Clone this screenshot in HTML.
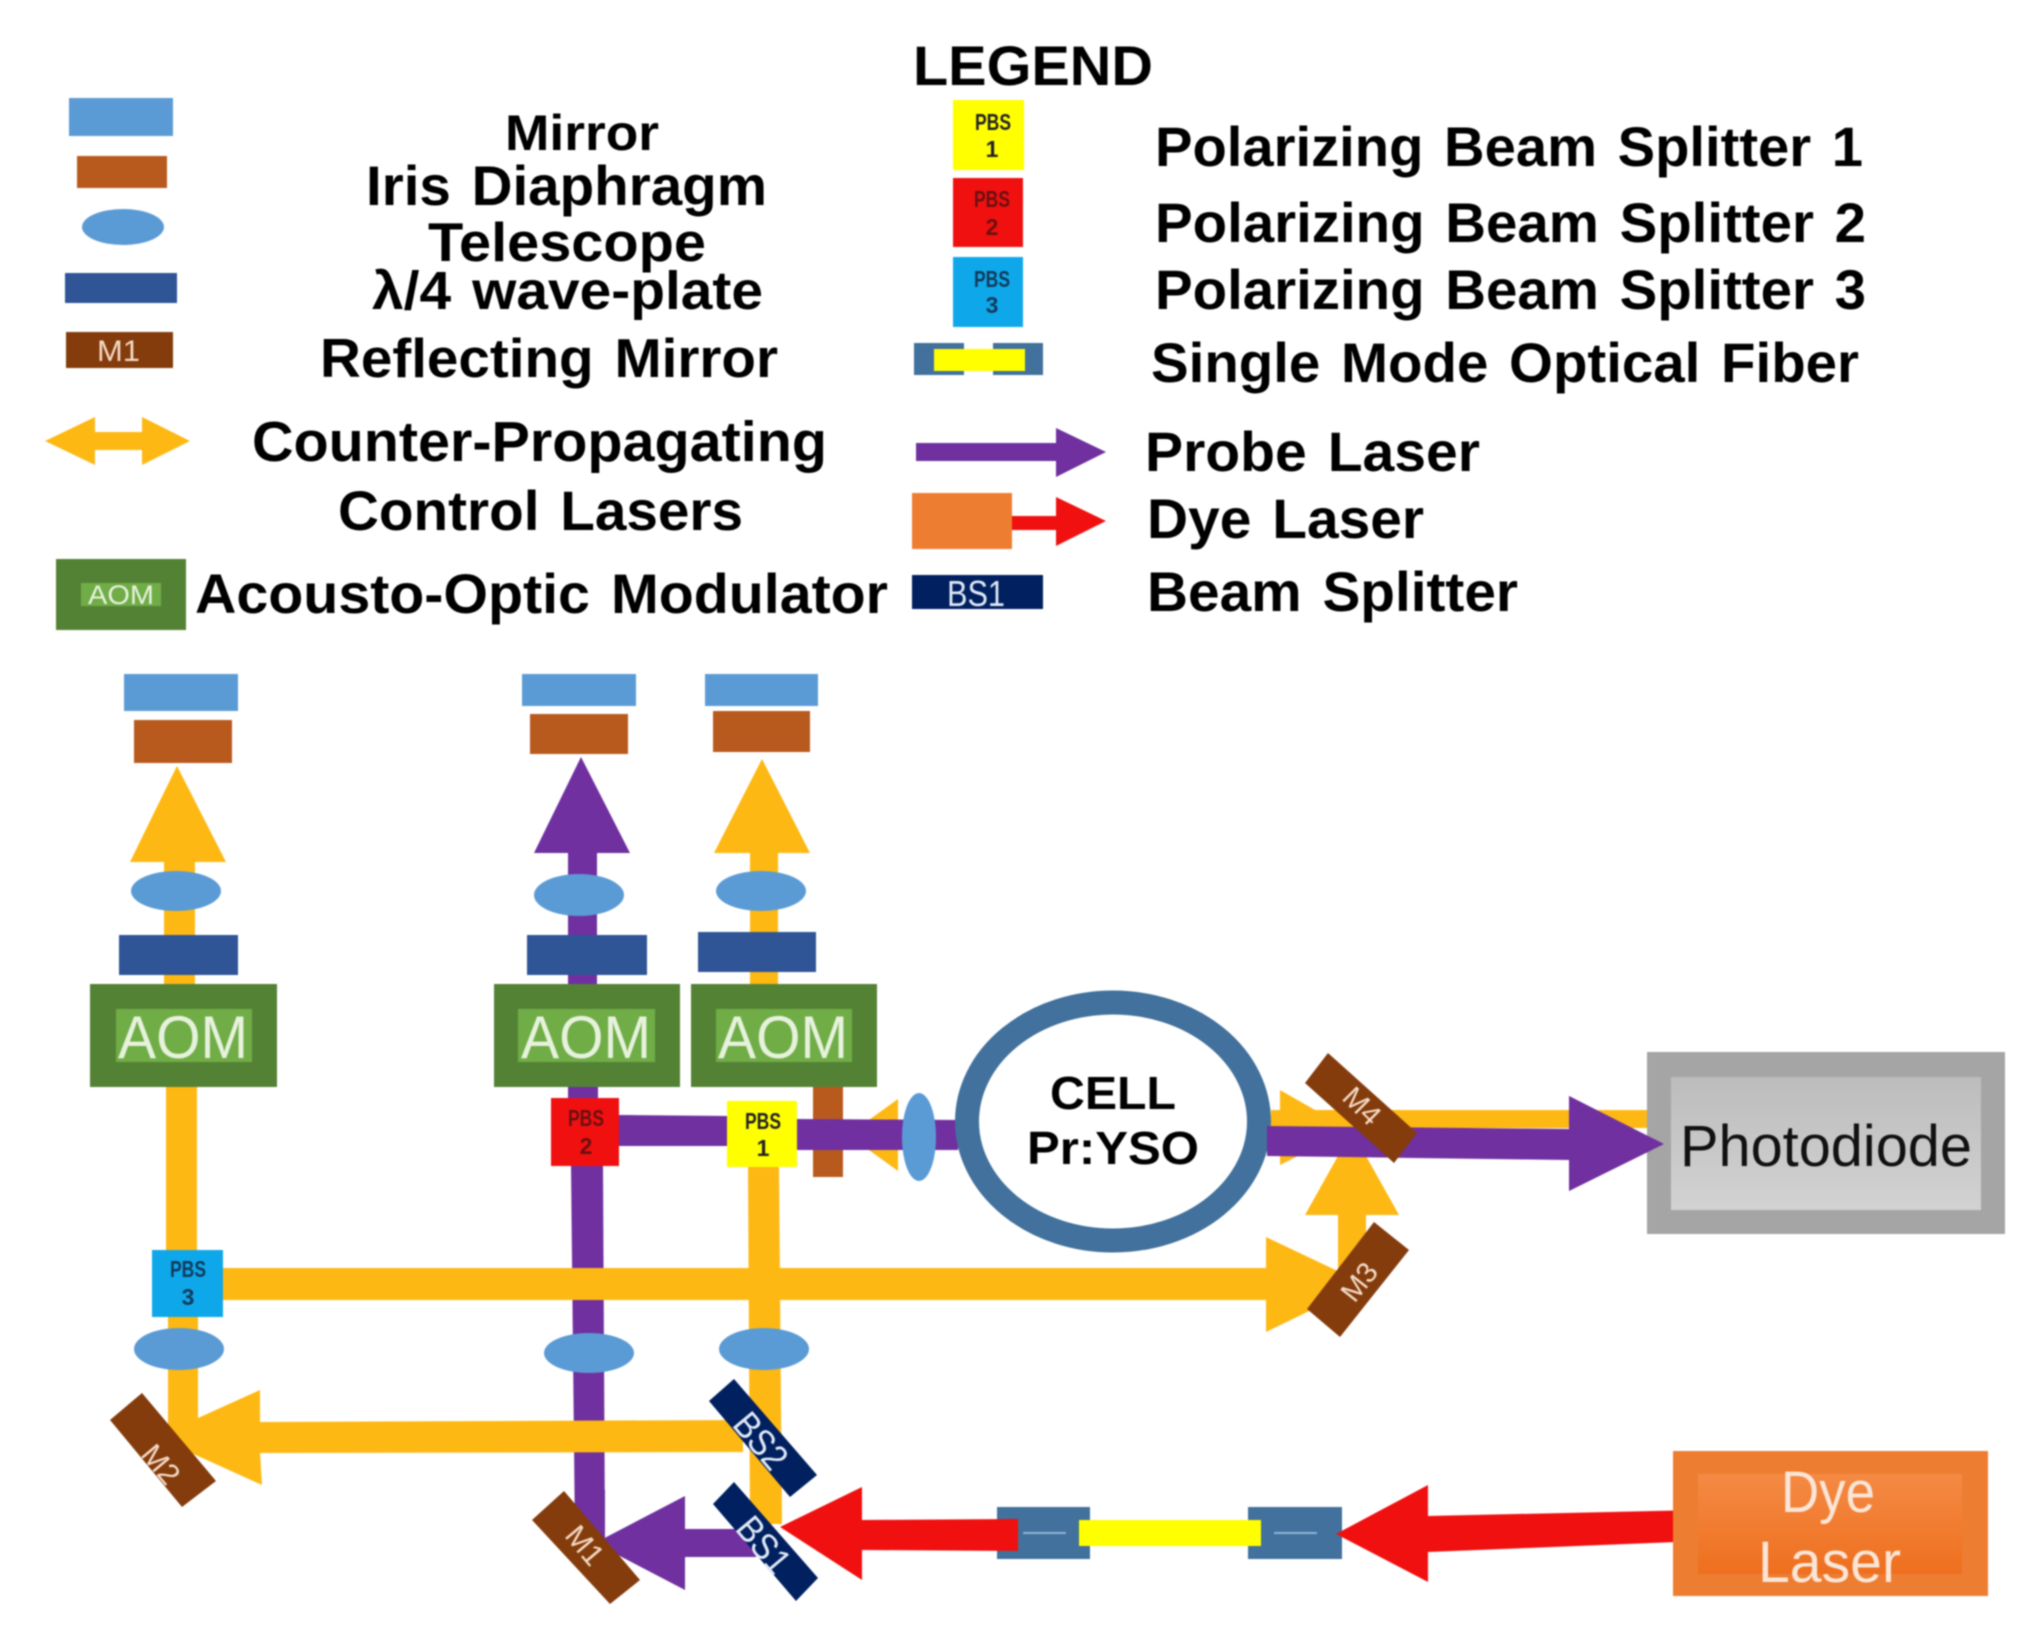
<!DOCTYPE html>
<html><head><meta charset="utf-8"><style>
html,body{margin:0;padding:0;background:#fff}
svg{display:block;filter:blur(.8px)}
text{font-family:"Liberation Sans",sans-serif}
.b{font-weight:700;fill:#000;word-spacing:5px}
.m{fill:#f3d9c4;font-size:30px;text-anchor:middle}
.p{font-weight:700;font-size:23px;text-anchor:middle}
.a{fill:#e6f2dc;font-size:60px}
</style></head><body>
<svg width="2035" height="1628" viewBox="0 0 2035 1628" xmlns="http://www.w3.org/2000/svg">
<defs>
<linearGradient id="pd" x1="0" y1="0" x2="0" y2="1"><stop offset="0" stop-color="#bcbcbc"/><stop offset="1" stop-color="#d2d2d2"/></linearGradient>
<linearGradient id="dy" x1="0" y1="0" x2="0" y2="1"><stop offset="0" stop-color="#f48a44"/><stop offset="1" stop-color="#ee6f1e"/></linearGradient>
</defs>
<rect width="2035" height="1628" fill="#fff"/>

<!-- Legend left -->
<rect x="69" y="98" width="104" height="38" fill="#5b9bd5"/>
<rect x="77" y="156" width="90" height="32" fill="#b85a1e"/>
<ellipse cx="123" cy="227" rx="41" ry="18" fill="#5b9bd5"/>
<rect x="65" y="273" width="112" height="30" fill="#2f5597"/>
<rect x="66" y="332" width="107" height="36" fill="#843c0c"/>
<text x="97" y="361" class="m" style="text-anchor:start" textLength="43" lengthAdjust="spacingAndGlyphs">M1</text>
<polygon points="45,441 95,417 95,432 142,432 142,417 190,441 142,465 142,450 95,450 95,465" fill="#fdb813"/>
<rect x="56" y="559" width="130" height="71" fill="#548235"/>
<rect x="81" y="583" width="80" height="23" fill="#70ad47"/>
<text x="88" y="604" fill="#e6f2dc" font-size="27" textLength="66" lengthAdjust="spacingAndGlyphs">AOM</text>

<text class="b" x="505" y="150" font-size="50" textLength="154" lengthAdjust="spacingAndGlyphs">Mirror</text>
<text class="b" x="366" y="205" font-size="56" textLength="401" lengthAdjust="spacingAndGlyphs">Iris Diaphragm</text>
<text class="b" x="428" y="261" font-size="55" textLength="278" lengthAdjust="spacingAndGlyphs">Telescope</text>
<text class="b" x="372" y="309" font-size="54" textLength="391" lengthAdjust="spacingAndGlyphs">λ/4 wave-plate</text>
<text class="b" x="320" y="377" font-size="55" textLength="458" lengthAdjust="spacingAndGlyphs">Reflecting Mirror</text>
<text class="b" x="252" y="461" font-size="57" textLength="575" lengthAdjust="spacingAndGlyphs">Counter-Propagating</text>
<text class="b" x="338" y="530" font-size="56" textLength="405" lengthAdjust="spacingAndGlyphs">Control Lasers</text>
<text class="b" x="195" y="613" font-size="56" textLength="693" lengthAdjust="spacingAndGlyphs">Acousto-Optic Modulator</text>

<!-- Legend right -->
<text class="b" x="913" y="85" font-size="56" textLength="240" lengthAdjust="spacingAndGlyphs">LEGEND</text>
<rect x="953" y="100" width="71" height="70" fill="#ffff00"/>
<text class="p" x="993" y="130" fill="#222" textLength="36" lengthAdjust="spacingAndGlyphs">PBS</text><text class="p" x="992" y="157" fill="#222">1</text>
<rect x="953" y="178" width="70" height="69" fill="#f01010"/>
<text class="p" x="992" y="207" fill="#6b1010" textLength="36" lengthAdjust="spacingAndGlyphs">PBS</text><text class="p" x="992" y="235" fill="#6b1010">2</text>
<rect x="953" y="257" width="70" height="70" fill="#0ea8ea"/>
<text class="p" x="992" y="287" fill="#123a5c" textLength="36" lengthAdjust="spacingAndGlyphs">PBS</text><text class="p" x="992" y="313" fill="#123a5c">3</text>
<rect x="914" y="343" width="50" height="32" fill="#41719c"/>
<rect x="993" y="343" width="50" height="32" fill="#41719c"/>
<rect x="934" y="349" width="91" height="22" fill="#ffff00"/>

<text class="b" x="1155" y="166" font-size="56" textLength="708" lengthAdjust="spacingAndGlyphs">Polarizing Beam Splitter 1</text>
<text class="b" x="1155" y="242" font-size="56" textLength="711" lengthAdjust="spacingAndGlyphs">Polarizing Beam Splitter 2</text>
<text class="b" x="1155" y="309" font-size="56" textLength="711" lengthAdjust="spacingAndGlyphs">Polarizing Beam Splitter 3</text>
<text class="b" x="1151" y="382" font-size="56" textLength="708" lengthAdjust="spacingAndGlyphs">Single Mode Optical Fiber</text>
<text class="b" x="1145" y="471" font-size="56" textLength="335" lengthAdjust="spacingAndGlyphs">Probe Laser</text>
<text class="b" x="1147" y="538" font-size="56" textLength="277" lengthAdjust="spacingAndGlyphs">Dye Laser</text>
<text class="b" x="1147" y="611" font-size="56" textLength="371" lengthAdjust="spacingAndGlyphs">Beam Splitter</text>

<polygon points="916,443 1056,443 1056,428 1106,452 1056,477 1056,461 916,461" fill="#7030a0"/>
<rect x="1012" y="516" width="50" height="14" fill="#f01010"/>
<polygon points="1056,497 1106,521 1056,546" fill="#f01010"/>
<rect x="912" y="493" width="100" height="56" fill="#ed7d31"/>
<rect x="912" y="575" width="131" height="34" fill="#002060"/>
<text x="947" y="606" fill="#dfe8f5" font-size="36" textLength="58" lengthAdjust="spacingAndGlyphs">BS1</text>

<!-- Purple beams -->
<g fill="#7030a0">
<polygon points="568,853 534,853 581,757 630,853 597,853 597,984 568,984"/>
<rect x="568" y="1087" width="30" height="15"/>
<polygon points="571,1166 603,1166 605,1540 575,1540"/>
<polygon points="619,1115 727,1116 727,1146 619,1146"/>
</g>

<!-- Gold beams -->
<g fill="#fdb813">
<polygon points="164,862 130,862 177,766 226,862 195,862 195,984 164,984"/>
<polygon points="750,853 714,853 762,759 810,853 778,853 778,984 750,984"/>
<rect x="166" y="1087" width="31" height="165"/>
<rect x="168" y="1317" width="30" height="120"/>
<polygon points="748,1167 779,1167 782,1524 750,1524"/>
<rect x="223" y="1268" width="1045" height="32"/>
<polygon points="1266,1237 1365,1284 1266,1332"/>
<polygon points="260,1390 156,1437 262,1485 260,1453 743,1452 743,1420 260,1422"/>
<polygon points="1338,1300 1338,1215 1305,1215 1352,1131 1399,1215 1366,1215 1366,1290"/>
<rect x="1271" y="1110" width="376" height="18"/>
<polygon points="1280,1090 1350,1130 1280,1165"/>
<polygon points="898,1099 848,1135 898,1171"/>
</g>

<!-- Top optics -->
<g fill="#5b9bd5">
<rect x="124" y="674" width="114" height="37"/>
<rect x="522" y="674" width="114" height="32"/>
<rect x="705" y="674" width="113" height="32"/>
<ellipse cx="176" cy="891" rx="45" ry="20"/>
<ellipse cx="579" cy="895" rx="45" ry="21"/>
<ellipse cx="761" cy="891" rx="45" ry="20"/>
<ellipse cx="179" cy="1349" rx="45" ry="21"/>
<ellipse cx="589" cy="1353" rx="45" ry="20"/>
<ellipse cx="764" cy="1349" rx="45" ry="21"/>
</g>
<g fill="#b85a1e">
<rect x="134" y="720" width="98" height="43"/>
<rect x="530" y="714" width="98" height="40"/>
<rect x="713" y="711" width="97" height="41"/>
</g>
<g fill="#2f5597">
<rect x="119" y="935" width="119" height="40"/>
<rect x="527" y="935" width="120" height="40"/>
<rect x="698" y="932" width="118" height="40"/>
</g>
<g fill="#548235">
<rect x="90" y="984" width="187" height="103"/>
<rect x="494" y="984" width="186" height="103"/>
<rect x="691" y="984" width="186" height="103"/>
</g>
<g fill="#70ad47">
<rect x="116" y="1009" width="136" height="53"/>
<rect x="518" y="1009" width="137" height="53"/>
<rect x="716" y="1009" width="136" height="53"/>
</g>
<text class="a" x="118" y="1058" textLength="130" lengthAdjust="spacingAndGlyphs">AOM</text>
<text class="a" x="521" y="1058" textLength="130" lengthAdjust="spacingAndGlyphs">AOM</text>
<text class="a" x="718" y="1058" textLength="130" lengthAdjust="spacingAndGlyphs">AOM</text>

<!-- Purple to cell, iris -->
<rect x="813" y="1087" width="30" height="90" fill="#b85a1e"/>
<polygon points="797,1119 958,1120 958,1150 797,1150" fill="#7030a0"/>
<ellipse cx="919" cy="1137" rx="17" ry="44" fill="#5b9bd5"/>

<!-- PBS blocks -->
<rect x="551" y="1098" width="68" height="68" fill="#f01010"/>
<text class="p" x="586" y="1126" fill="#6b1010" textLength="36" lengthAdjust="spacingAndGlyphs">PBS</text><text class="p" x="586" y="1154" fill="#6b1010">2</text>
<rect x="727" y="1101" width="70" height="66" fill="#ffff00"/>
<text class="p" x="763" y="1129" fill="#222" textLength="36" lengthAdjust="spacingAndGlyphs">PBS</text><text class="p" x="763" y="1156" fill="#222">1</text>
<rect x="152" y="1250" width="71" height="67" fill="#0ea8ea"/>
<text class="p" x="188" y="1277" fill="#123a5c" textLength="36" lengthAdjust="spacingAndGlyphs">PBS</text><text class="p" x="188" y="1305" fill="#123a5c">3</text>

<!-- Cell -->
<ellipse cx="1113" cy="1121.5" rx="146" ry="119" fill="#fff" stroke="#41719c" stroke-width="24"/>
<text class="b" x="1050" y="1109" font-size="46" textLength="126" lengthAdjust="spacingAndGlyphs">CELL</text>
<text class="b" x="1027" y="1164" font-size="46" textLength="172" lengthAdjust="spacingAndGlyphs">Pr:YSO</text>

<!-- Probe out -->
<polygon points="1267,1126 1569,1129 1569,1096 1662,1144 1569,1191 1569,1160 1267,1156" fill="#7030a0"/>

<!-- Photodiode -->
<rect x="1647" y="1052" width="358" height="182" fill="#a5a5a5"/>
<rect x="1671" y="1077" width="310" height="133" fill="url(#pd)"/>
<polygon points="1569,1129 1569,1096 1664,1144 1569,1191 1569,1160" fill="#7030a0"/>
<text x="1680" y="1166" font-size="58" fill="#111" textLength="292" lengthAdjust="spacingAndGlyphs">Photodiode</text>

<!-- Angled mirrors -->
<polygon points="1328,1053 1417,1133 1394,1163 1305,1083" fill="#843c0c"/>
<text class="m" transform="translate(1355,1113) rotate(45)" style="font-size:29px">M4</text>
<polygon points="1374,1222 1409,1250 1340,1337 1307,1309" fill="#843c0c"/>
<text class="m" transform="translate(1367,1288) rotate(-52)" style="font-size:29px">M3</text>
<polygon points="142,1393 216,1481 182,1507 110,1420" fill="#843c0c"/>
<text class="m" transform="translate(153,1471) rotate(50)">M2</text>
<rect x="575" y="1490" width="30" height="40" fill="#7030a0"/>
<polygon points="685,1529 756,1529 756,1557 685,1557 685,1590 595,1543 685,1496" fill="#7030a0"/>
<polygon points="564,1491 640,1580 610,1604 532,1520" fill="#843c0c"/>
<text class="m" transform="translate(577,1552) rotate(50)">M1</text>
<polygon points="734,1379 817,1475 790,1497 709,1401" fill="#002060"/>
<text transform="translate(751,1449) rotate(50)" fill="#dfe8f5" font-size="37" text-anchor="middle" textLength="62" lengthAdjust="spacingAndGlyphs">BS2</text>
<polygon points="734,1482 818,1578 796,1601 713,1504" fill="#002060"/>
<text transform="translate(754,1553) rotate(50)" fill="#dfe8f5" font-size="37" text-anchor="middle" textLength="62" lengthAdjust="spacingAndGlyphs">BS1</text>

<!-- Dye laser path -->
<rect x="997" y="1507" width="93" height="52" fill="#41719c"/>
<polygon points="780,1527 862,1487 862,1520 1018,1519 1018,1551 862,1550 862,1580" fill="#f01010"/>
<rect x="1248" y="1507" width="94" height="52" fill="#41719c"/>
<rect x="1023" y="1532" width="43" height="2" fill="#8fb4d6"/>
<rect x="1274" y="1532" width="43" height="2" fill="#8fb4d6"/>
<rect x="1079" y="1520" width="182" height="26" fill="#ffff00"/>
<polygon points="1336,1534 1428,1485 1428,1516 1700,1510 1700,1541 1428,1552 1428,1582" fill="#f01010"/>
<rect x="1673" y="1451" width="315" height="145" fill="#ed7d31"/>
<rect x="1698" y="1474" width="264" height="100" fill="url(#dy)"/>
<text x="1781" y="1512" font-size="58" fill="#fbe5d6" textLength="94" lengthAdjust="spacingAndGlyphs">Dye</text>
<text x="1758" y="1582" font-size="58" fill="#fbe5d6" textLength="143" lengthAdjust="spacingAndGlyphs">Laser</text>
</svg>
</body></html>
